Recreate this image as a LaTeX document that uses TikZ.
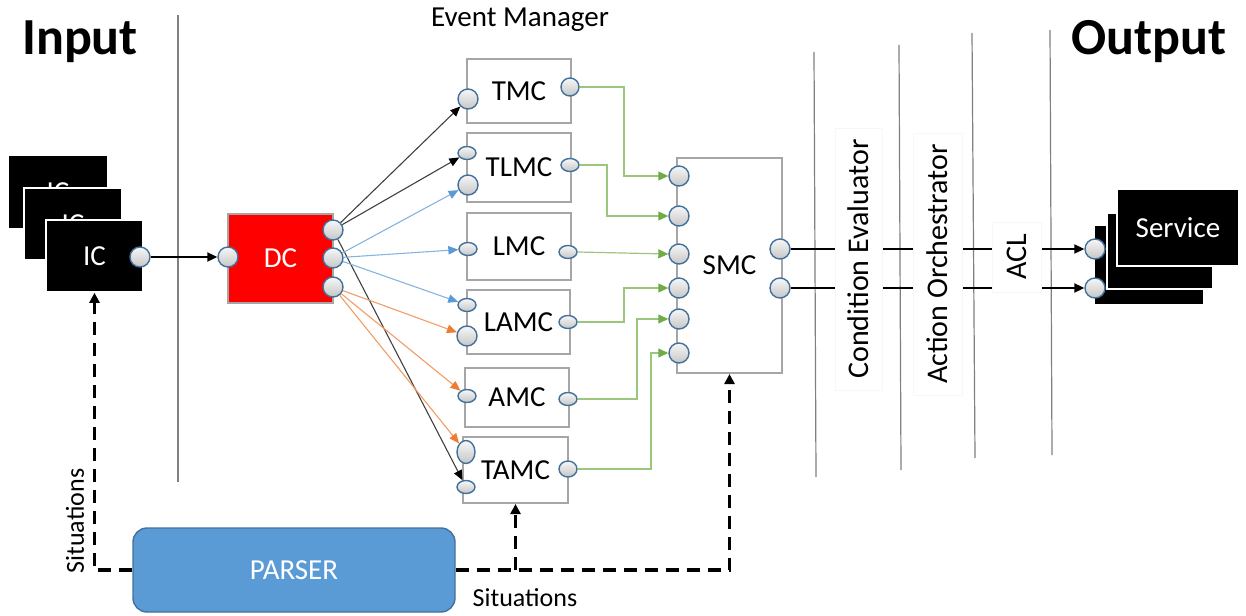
\documentclass[tikz,border=0pt]{standalone}
\usepackage{fontspec}
\setmainfont{Carlito}
\usetikzlibrary{arrows.meta,shapes.geometric,calc}
\definecolor{portblue}{HTML}{41719C}
\definecolor{lblue}{HTML}{5B9BD5}
\definecolor{lorange}{HTML}{ED7D31}
\definecolor{lgreen}{HTML}{70AD47}
\definecolor{boxgray}{HTML}{A6A6A6}
\definecolor{parserfill}{HTML}{5B9BD5}
\begin{document}
\begin{tikzpicture}[x=0.5pt,y=-0.5pt,
  lbl/.style={font=\fontsize{14.5}{17}\selectfont},
  mbox/.style={draw=boxgray, line width=1pt, fill=white, inner sep=0pt, lbl},
  blk/.style={draw=white, line width=0.8pt, fill=black, text=white, inner sep=0pt, lbl},
  port/.style={ellipse, draw=portblue, line width=0.7pt, top color=gray!6, bottom color=gray!45, inner sep=0pt, minimum width=10pt, minimum height=10pt},
  pw/.style={port, minimum width=9pt, minimum height=6.5pt},
  ptall/.style={port, minimum width=9pt, minimum height=11.5pt},
  vline/.style={draw=black!50, line width=0.6pt},
  farrow/.style={line width=0.55pt, draw=#1!75, -{Triangle[length=5pt,width=4.2pt,color=#1]}},
  gline/.style={draw=lgreen!70, line width=0.6pt, -{Triangle[length=5pt,width=4.5pt,color=lgreen]}},
  dashline/.style={line width=1.6pt, dash pattern=on 6.5pt off 4pt},
  dasharrow/.style={dashline, -{Triangle[length=5pt,width=5pt]}},
  stagelbl/.style={rotate=90, fill=white, draw=black!3, inner sep=0pt, font=\fontsize{15}{18}\selectfont},
]
\useasboundingbox (0,0) rectangle (1246,615);

% separators
\draw[vline] (178,15) -- (178,482);
\draw[vline] (814,52) -- (816,477);
\draw[vline] (899,45) -- (901,470);
\draw[vline] (972,33) -- (975,458);
\draw[vline] (1050,30) -- (1052,455);

% IC stack
\node[blk, minimum width=50pt, minimum height=37pt] (icC) at (58,192) {IC};
\node[blk, minimum width=49pt, minimum height=36pt] (icB) at (73,224) {IC};
\node[blk, minimum width=48.5pt, minimum height=36pt] (icA) at (94.5,256) {IC};

% Service stack
\node[blk, minimum width=55pt, minimum height=40pt] (svC) at (1149,265) {};
\node[blk, minimum width=53pt, minimum height=38pt] (svB) at (1160,251) {};
\node[blk, minimum width=61pt, minimum height=38.5pt] (svA) at (1178,227.5) {Service};

% DC
\node[mbox, fill=red, text=white, minimum width=52.5pt, minimum height=44.5pt] (dc) at (280.5,258.5) {DC};

% Event manager boxes
\node[mbox, minimum width=52pt, minimum height=32pt] (tmc) at (519,91) {TMC};
\node[mbox, minimum width=52pt, minimum height=34.5pt] (tlmc) at (519,167.5) {TLMC};
\node[mbox, minimum width=52pt, minimum height=33.5pt] (lmc) at (519,246.5) {LMC};
\node[mbox, minimum width=51.5pt, minimum height=32pt] (lamc) at (518.5,322) {LAMC};
\node[mbox, minimum width=52pt, minimum height=29.5pt] (amc) at (517,397.5) {AMC};
\node[mbox, minimum width=52.5pt, minimum height=33pt] (tamc) at (515.5,470) {TAMC};

% SMC
\node[mbox, minimum width=52.5pt, minimum height=107.5pt] (smc) at (729.5,265.5) {SMC};

% PARSER
\node[draw=portblue, line width=0.7pt, fill=parserfill, rounded corners=7pt, text=white, inner sep=0pt, minimum width=161pt, minimum height=42pt, lbl] (parser) at (294,570) {PARSER};

% ports
\node[port] (icP) at (140,257) {};
\node[port] (dcL) at (228,257) {};
\node[port] (dcA) at (333,230) {};
\node[port] (dcB) at (333,258) {};
\node[port] (dcC) at (333,287) {};

\node[port] (tmcL) at (468,99) {};
\node[port, minimum width=9pt, minimum height=9pt] (tmcR) at (570,87) {};
\node[pw] (tlmcL1) at (467,153) {};
\node[port] (tlmcL2) at (468,185) {};
\node[pw] (tlmcR) at (570,165) {};
\node[pw] (lmcL) at (468,249) {};
\node[pw] (lmcR) at (568,252) {};
\node[pw] (lamcL1) at (467,305) {};
\node[port] (lamcL2) at (467,336) {};
\node[pw] (lamcR) at (568,322) {};
\node[pw] (amcL) at (467,396) {};
\node[pw] (amcR) at (568,399) {};
\node[ptall] (tamcL1) at (466,452) {};
\node[pw] (tamcL2) at (466,487) {};
\node[port, minimum width=9pt, minimum height=8pt] (tamcR) at (568,469) {};

\node[port] (smc1) at (679,176) {};
\node[port] (smc2) at (679,216) {};
\node[port] (smc3) at (679,254) {};
\node[port] (smc4) at (679,288) {};
\node[port] (smc5) at (679,319) {};
\node[port] (smc6) at (679,353) {};
\node[port] (smcR1) at (780,249) {};
\node[port] (smcR2) at (780,288) {};

\node[port] (svP1) at (1095,249) {};
\node[port] (svP2) at (1095,288) {};

% IC -> DC
\draw[line width=1pt, -{Triangle[length=5pt,width=4.5pt]}] (icP) -- (dcL);

% DC -> event manager boxes
\draw[farrow=black] (dcA) -- (tmcL);
\draw[farrow=black] (dcA) -- (tlmcL1);
\draw[farrow=black] (dcA) -- (tamcL2);
\draw[farrow=lblue] (dcB) -- (tlmcL2);
\draw[farrow=lblue] (dcB) -- (lmcL);
\draw[farrow=lblue] (dcB) -- (lamcL1);
\draw[farrow=lorange] (dcC) -- (lamcL2);
\draw[farrow=lorange] (dcC) -- (amcL);
\draw[farrow=lorange] (dcC) -- (tamcL1);

% event manager -> SMC
\coordinate (gx1) at (624,0);
\coordinate (gx2) at (607,0);
\coordinate (gx5) at (637,0);
\coordinate (gx6) at (651,0);
\draw[gline] (tmcR.east) -| (gx1 |- smc1) -- (smc1.west);
\draw[gline] (tlmcR.east) -| (gx2 |- smc2) -- (smc2.west);
\draw[gline] (lmcR.east) -- (smc3.west);
\draw[gline] (lamcR.east) -| (gx1 |- smc4) -- (smc4.west);
\draw[gline] (amcR.east) -| (gx5 |- smc5) -- (smc5.west);
\draw[gline] (tamcR.east) -| (gx6 |- smc6) -- (smc6.west);

% SMC -> services
\draw[line width=1pt, -{Triangle[length=5pt,width=4.5pt]}] (smcR1.east) -- (svP1.west);
\draw[line width=1pt, -{Triangle[length=5pt,width=4.5pt]}] (smcR2.east) -- (svP2.west);

% stage labels
\node[stagelbl, minimum width=131pt, minimum height=23.5pt] (ce) at (858.5,259) {Condition Evaluator};
\node[stagelbl, minimum width=131pt, minimum height=24.5pt] (ao) at (937.5,264) {Action Orchestrator};
\node[stagelbl, minimum width=35pt, minimum height=24.5pt] (acl) at (1016.5,257) {ACL};

% dashed situations
\draw[dasharrow] (parser.west) -| (icA.south);
\draw[dasharrow] (parser.east) -| (smc.south);
\coordinate (br) at (tamc.south |- parser.east);
\draw[dasharrow] (br) -- (tamc.south);

% texts
\node[font=\fontsize{26}{30}\selectfont\bfseries] (tin) at (80,42) {Input};
\node[font=\fontsize{26}{30}\selectfont\bfseries] (tout) at (1149,42) {Output};
\node[font=\fontsize{14.5}{17}\selectfont] (tem) at (520,20) {Event Manager};
\node[rotate=90, font=\fontsize{13}{16}\selectfont] (sit1) at (75,521) {Situations};
\node[font=\fontsize{13}{16}\selectfont] (sit2) at (525,598) {Situations};
\end{tikzpicture}
\end{document}
